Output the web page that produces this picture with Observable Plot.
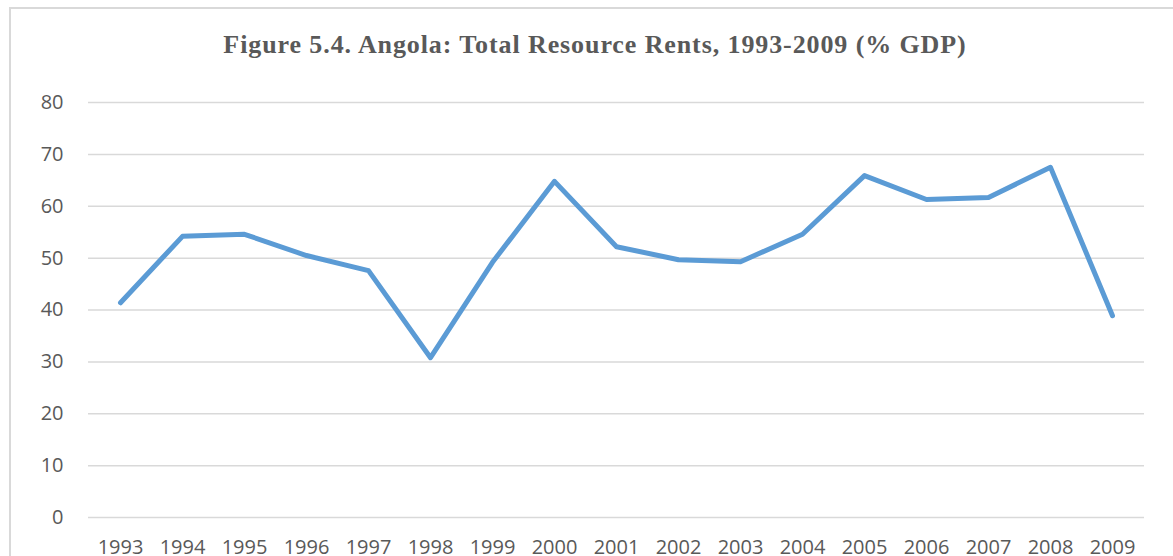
<!DOCTYPE html>
<html>
<head>
<meta charset="utf-8">
<script src="https://cdn.jsdelivr.net/npm/d3@7"></script>
<script src="https://cdn.jsdelivr.net/npm/@observablehq/plot@0.6"></script>
<style>
  html, body { margin: 0; padding: 0; width: 1173px; height: 556px; overflow: hidden; background: #fff; }
  #frame { position: absolute; left: 9px; top: 7px; width: 1300px; height: 700px; border: 2px solid #d9d9d9; box-sizing: border-box; }
  #title { position: absolute; left: 0; top: 30px; width: 1190px; text-align: center; font-family: "Liberation Serif", "Times New Roman", serif; font-weight: bold; font-size: 26px; line-height: 30px; letter-spacing: 0.9px; color: #595959; white-space: nowrap; }
  #chart { position: absolute; left: 0; top: 70px; }
</style>
</head>
<body>
<div id="frame"></div>
<div id="title">Figure 5.4. Angola: Total Resource Rents, 1993-2009 (% GDP)</div>
<div id="chart"></div>
<script>
const years = ["1993","1994","1995","1996","1997","1998","1999","2000","2001","2002","2003","2004","2005","2006","2007","2008","2009"];
const rents = [41.4, 54.2, 54.6, 50.5, 47.6, 30.8, 49.2, 64.8, 52.2, 49.7, 49.3, 54.6, 65.9, 61.3, 61.7, 67.5, 38.9];
const yTicks = [0, 10, 20, 30, 40, 50, 60, 70, 80];

const data = years.map((y, i) => ({year: y, value: rents[i]}));

const chart = Plot.plot({
  width: 1173,
  height: 486,
  marginLeft: 88,
  marginRight: 29,
  marginTop: 32,
  marginBottom: 39,
  style: { fontFamily: "'Open Sans', sans-serif", fontSize: "20px", color: "#595959", background: "transparent" },
  x: { type: "point", domain: years, padding: 0.5, tickSize: 0, tickPadding: 22, label: null },
  y: { domain: [0, 80], ticks: yTicks, tickSize: 0, tickPadding: 25, label: null },
  marks: [
    Plot.ruleY(yTicks, { stroke: "#d9d9d9", strokeWidth: 1.5 }),
    Plot.line(data, { x: "year", y: "value", stroke: "#5b9bd5", strokeWidth: 5, strokeLinejoin: "round", strokeLinecap: "round" })
  ]
});
document.getElementById("chart").appendChild(chart);
</script>
</body>
</html>
